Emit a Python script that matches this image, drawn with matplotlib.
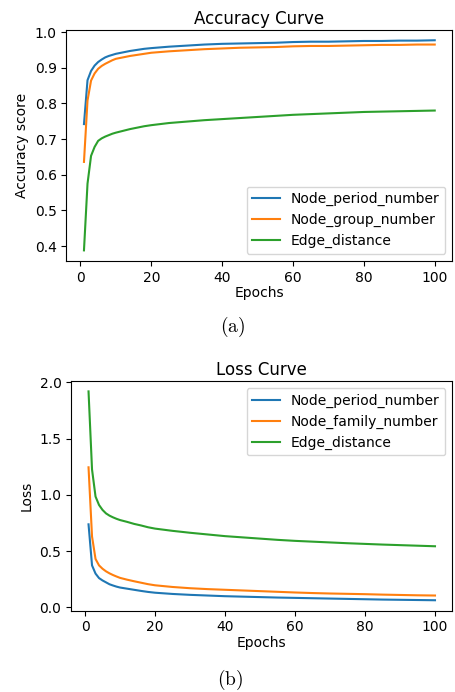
import matplotlib
import matplotlib.pyplot as plt

matplotlib.use('Agg')

epochs = [1, 2, 3, 4, 5, 6, 7, 8, 9, 10, 12, 14, 16, 18, 20, 25, 30, 35, 40, 45,
          50, 55, 60, 65, 70, 75, 80, 85, 90, 95, 100]

acc_period = [0.742, 0.865, 0.891, 0.906, 0.916, 0.923, 0.929, 0.933, 0.936, 0.939,
              0.943, 0.947, 0.950, 0.953, 0.955, 0.959, 0.962, 0.965, 0.967, 0.968,
              0.969, 0.970, 0.972, 0.973, 0.973, 0.974, 0.975, 0.975, 0.976, 0.976, 0.977]
acc_group = [0.636, 0.808, 0.864, 0.884, 0.897, 0.905, 0.911, 0.916, 0.921, 0.925,
             0.929, 0.933, 0.936, 0.939, 0.942, 0.946, 0.949, 0.952, 0.954, 0.956,
             0.957, 0.958, 0.960, 0.961, 0.961, 0.962, 0.963, 0.964, 0.964, 0.965, 0.965]
acc_edge = [0.388, 0.575, 0.653, 0.678, 0.695, 0.702, 0.707, 0.711, 0.715, 0.718,
            0.723, 0.728, 0.732, 0.736, 0.739, 0.745, 0.749, 0.753, 0.756, 0.759,
            0.762, 0.765, 0.768, 0.770, 0.772, 0.774, 0.776, 0.777, 0.778, 0.779, 0.780]

loss_period = [0.738, 0.373, 0.300, 0.260, 0.239, 0.222, 0.205, 0.194, 0.184, 0.176,
               0.166, 0.156, 0.146, 0.137, 0.130, 0.119, 0.111, 0.105, 0.099, 0.095,
               0.091, 0.087, 0.084, 0.081, 0.078, 0.075, 0.072, 0.069, 0.067, 0.065, 0.063]
loss_family = [1.245, 0.630, 0.430, 0.373, 0.343, 0.320, 0.302, 0.287, 0.274, 0.262,
               0.246, 0.232, 0.219, 0.206, 0.196, 0.181, 0.170, 0.162, 0.156, 0.150,
               0.144, 0.138, 0.132, 0.127, 0.123, 0.120, 0.117, 0.113, 0.110, 0.107, 0.105]
loss_edge = [1.920, 1.226, 0.985, 0.910, 0.866, 0.835, 0.815, 0.800, 0.787, 0.776,
             0.760, 0.742, 0.728, 0.712, 0.700, 0.680, 0.663, 0.648, 0.633, 0.622,
             0.611, 0.600, 0.591, 0.584, 0.577, 0.570, 0.564, 0.558, 0.553, 0.548, 0.543]

plt.rcParams['mathtext.fontset'] = 'cm'
plt.rcParams['font.size'] = 10

fig = plt.figure(figsize=(4.55, 6.92), dpi=100)

# (a) accuracy
ax1 = fig.add_axes([0.146, 0.623, 0.848, 0.334])
ax1.plot(epochs, acc_period, label='Node_period_number')
ax1.plot(epochs, acc_group, label='Node_group_number')
ax1.plot(epochs, acc_edge, label='Edge_distance')
ax1.set_title('Accuracy Curve', pad=4)
ax1.set_xlabel('Epochs', labelpad=1)
ax1.set_ylabel('Accuracy score')
ax1.legend(loc='lower right')
fig.text(0.512, 0.528, r'$\mathrm{(a)}$', ha='center', va='center', fontsize=14)

# (b) loss
ax2 = fig.add_axes([0.1565, 0.1175, 0.8376, 0.332])
ax2.plot(epochs, loss_period, label='Node_period_number')
ax2.plot(epochs, loss_family, label='Node_family_number')
ax2.plot(epochs, loss_edge, label='Edge_distance')
ax2.set_title('Loss Curve', pad=4)
ax2.set_xlabel('Epochs', labelpad=1)
ax2.set_ylabel('Loss')
ax2.legend(loc='upper right')
fig.text(0.506, 0.017, r'$\mathrm{(b)}$', ha='center', va='center', fontsize=14)

plt.savefig('out.png', dpi=100)
